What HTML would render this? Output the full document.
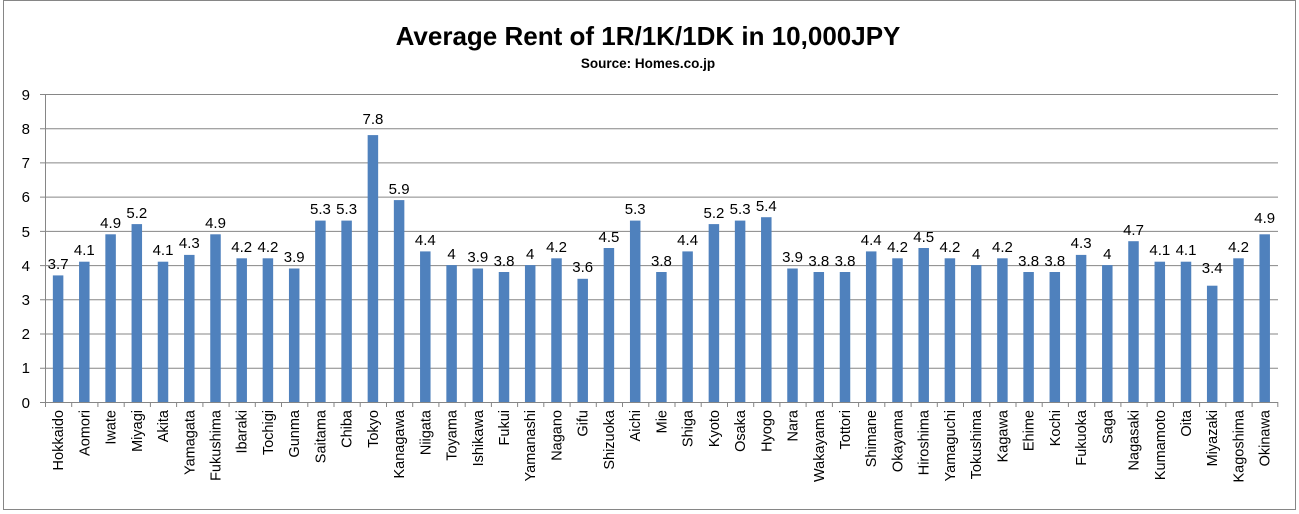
<!DOCTYPE html>
<html><head><meta charset="utf-8"><style>
html,body{margin:0;padding:0;background:#fff;}
svg{display:block;font-family:"Liberation Sans",sans-serif;}
.v{font-size:15px;text-anchor:middle;fill:#000}
.c{font-size:14.5px;text-anchor:end;fill:#000}
rect.b{fill:#4f81bd}
</style></head><body>
<svg width="1299" height="514" viewBox="0 0 1299 514">
<rect x="0" y="0" width="1299" height="514" fill="#fff"/>
<rect x="3.5" y="0.5" width="1292" height="509" fill="none" stroke="#868686"/>
<text x="648" y="45" text-anchor="middle" font-size="26" font-weight="bold">Average Rent of 1R/1K/1DK in 10,000JPY</text>
<text x="648" y="68" text-anchor="middle" font-size="13.5" font-weight="bold">Source: Homes.co.jp</text>
<g stroke="#868686" stroke-width="1">
<line x1="40" x2="1278" y1="94.5" y2="94.5"/>
<line x1="40" x2="1278" y1="128.7" y2="128.7"/>
<line x1="40" x2="1278" y1="162.9" y2="162.9"/>
<line x1="40" x2="1278" y1="197.1" y2="197.1"/>
<line x1="40" x2="1278" y1="231.4" y2="231.4"/>
<line x1="40" x2="1278" y1="265.6" y2="265.6"/>
<line x1="40" x2="1278" y1="299.8" y2="299.8"/>
<line x1="40" x2="1278" y1="334.0" y2="334.0"/>
<line x1="40" x2="1278" y1="368.2" y2="368.2"/>
<line x1="40" x2="1278" y1="402.5" y2="402.5"/>
<line x1="45.5" x2="45.5" y1="94" y2="407"/>
</g>
<g font-size="15" text-anchor="end">
<text x="30" y="100">9</text><text x="30" y="134">8</text><text x="30" y="168">7</text><text x="30" y="202">6</text><text x="30" y="237">5</text><text x="30" y="271">4</text><text x="30" y="305">3</text><text x="30" y="339">2</text><text x="30" y="373">1</text><text x="30" y="408">0</text>
</g>
<g stroke="#868686">
<path d="M71.7 402v5M97.9 402v5M124.2 402v5M150.4 402v5M176.6 402v5M202.9 402v5M229.1 402v5M255.3 402v5M281.5 402v5M307.8 402v5M334 402v5M360.2 402v5M386.5 402v5M412.7 402v5M438.9 402v5M465.2 402v5M491.4 402v5M517.6 402v5M543.8 402v5M570.1 402v5M596.3 402v5M622.5 402v5M648.8 402v5M675 402v5M701.2 402v5M727.5 402v5M753.7 402v5M779.9 402v5M806.1 402v5M832.4 402v5M858.6 402v5M884.8 402v5M911.1 402v5M937.3 402v5M963.5 402v5M989.8 402v5M1016 402v5M1042.2 402v5M1068.4 402v5M1094.7 402v5M1120.9 402v5M1147.1 402v5M1173.4 402v5M1199.6 402v5M1225.8 402v5M1252.1 402v5M1277.8 402v5"/>
</g>
<g transform="translate(58.1)"><rect class="b" x="-5.25" y="275.4" width="10.5" height="126.6"/><text class="v" y="269">3.7</text><text class="c" transform="translate(5,410) rotate(-90)">Hokkaido</text></g>
<g transform="translate(84.3)"><rect class="b" x="-5.25" y="261.7" width="10.5" height="140.3"/><text class="v" y="255">4.1</text><text class="c" transform="translate(5,410) rotate(-90)">Aomori</text></g>
<g transform="translate(110.6)"><rect class="b" x="-5.25" y="234.3" width="10.5" height="167.7"/><text class="v" y="228">4.9</text><text class="c" transform="translate(5,410) rotate(-90)">Iwate</text></g>
<g transform="translate(136.8)"><rect class="b" x="-5.25" y="224.1" width="10.5" height="177.9"/><text class="v" y="218">5.2</text><text class="c" transform="translate(5,410) rotate(-90)">Miyagi</text></g>
<g transform="translate(163.0)"><rect class="b" x="-5.25" y="261.7" width="10.5" height="140.3"/><text class="v" y="255">4.1</text><text class="c" transform="translate(5,410) rotate(-90)">Akita</text></g>
<g transform="translate(189.3)"><rect class="b" x="-5.25" y="254.9" width="10.5" height="147.1"/><text class="v" y="248">4.3</text><text class="c" transform="translate(5,410) rotate(-90)">Yamagata</text></g>
<g transform="translate(215.5)"><rect class="b" x="-5.25" y="234.3" width="10.5" height="167.7"/><text class="v" y="228">4.9</text><text class="c" transform="translate(5,410) rotate(-90)">Fukushima</text></g>
<g transform="translate(241.7)"><rect class="b" x="-5.25" y="258.3" width="10.5" height="143.7"/><text class="v" y="252">4.2</text><text class="c" transform="translate(5,410) rotate(-90)">Ibaraki</text></g>
<g transform="translate(267.9)"><rect class="b" x="-5.25" y="258.3" width="10.5" height="143.7"/><text class="v" y="252">4.2</text><text class="c" transform="translate(5,410) rotate(-90)">Tochigi</text></g>
<g transform="translate(294.2)"><rect class="b" x="-5.25" y="268.5" width="10.5" height="133.5"/><text class="v" y="262">3.9</text><text class="c" transform="translate(5,410) rotate(-90)">Gunma</text></g>
<g transform="translate(320.4)"><rect class="b" x="-5.25" y="220.6" width="10.5" height="181.4"/><text class="v" y="214">5.3</text><text class="c" transform="translate(5,410) rotate(-90)">Saitama</text></g>
<g transform="translate(346.6)"><rect class="b" x="-5.25" y="220.6" width="10.5" height="181.4"/><text class="v" y="214">5.3</text><text class="c" transform="translate(5,410) rotate(-90)">Chiba</text></g>
<g transform="translate(372.9)"><rect class="b" x="-5.25" y="135.1" width="10.5" height="266.9"/><text class="v" y="124">7.8</text><text class="c" transform="translate(5,410) rotate(-90)">Tokyo</text></g>
<g transform="translate(399.1)"><rect class="b" x="-5.25" y="200.1" width="10.5" height="201.9"/><text class="v" y="194">5.9</text><text class="c" transform="translate(5,410) rotate(-90)">Kanagawa</text></g>
<g transform="translate(425.3)"><rect class="b" x="-5.25" y="251.4" width="10.5" height="150.6"/><text class="v" y="245">4.4</text><text class="c" transform="translate(5,410) rotate(-90)">Niigata</text></g>
<g transform="translate(451.6)"><rect class="b" x="-5.25" y="265.1" width="10.5" height="136.9"/><text class="v" y="259">4</text><text class="c" transform="translate(5,410) rotate(-90)">Toyama</text></g>
<g transform="translate(477.8)"><rect class="b" x="-5.25" y="268.5" width="10.5" height="133.5"/><text class="v" y="262">3.9</text><text class="c" transform="translate(5,410) rotate(-90)">Ishikawa</text></g>
<g transform="translate(504.0)"><rect class="b" x="-5.25" y="272.0" width="10.5" height="130.0"/><text class="v" y="266">3.8</text><text class="c" transform="translate(5,410) rotate(-90)">Fukui</text></g>
<g transform="translate(530.2)"><rect class="b" x="-5.25" y="265.1" width="10.5" height="136.9"/><text class="v" y="259">4</text><text class="c" transform="translate(5,410) rotate(-90)">Yamanashi</text></g>
<g transform="translate(556.5)"><rect class="b" x="-5.25" y="258.3" width="10.5" height="143.7"/><text class="v" y="252">4.2</text><text class="c" transform="translate(5,410) rotate(-90)">Nagano</text></g>
<g transform="translate(582.7)"><rect class="b" x="-5.25" y="278.8" width="10.5" height="123.2"/><text class="v" y="272">3.6</text><text class="c" transform="translate(5,410) rotate(-90)">Gifu</text></g>
<g transform="translate(608.9)"><rect class="b" x="-5.25" y="248.0" width="10.5" height="154.0"/><text class="v" y="242">4.5</text><text class="c" transform="translate(5,410) rotate(-90)">Shizuoka</text></g>
<g transform="translate(635.2)"><rect class="b" x="-5.25" y="220.6" width="10.5" height="181.4"/><text class="v" y="214">5.3</text><text class="c" transform="translate(5,410) rotate(-90)">Aichi</text></g>
<g transform="translate(661.4)"><rect class="b" x="-5.25" y="272.0" width="10.5" height="130.0"/><text class="v" y="266">3.8</text><text class="c" transform="translate(5,410) rotate(-90)">Mie</text></g>
<g transform="translate(687.6)"><rect class="b" x="-5.25" y="251.4" width="10.5" height="150.6"/><text class="v" y="245">4.4</text><text class="c" transform="translate(5,410) rotate(-90)">Shiga</text></g>
<g transform="translate(713.9)"><rect class="b" x="-5.25" y="224.1" width="10.5" height="177.9"/><text class="v" y="218">5.2</text><text class="c" transform="translate(5,410) rotate(-90)">Kyoto</text></g>
<g transform="translate(740.1)"><rect class="b" x="-5.25" y="220.6" width="10.5" height="181.4"/><text class="v" y="214">5.3</text><text class="c" transform="translate(5,410) rotate(-90)">Osaka</text></g>
<g transform="translate(766.3)"><rect class="b" x="-5.25" y="217.2" width="10.5" height="184.8"/><text class="v" y="211">5.4</text><text class="c" transform="translate(5,410) rotate(-90)">Hyogo</text></g>
<g transform="translate(792.5)"><rect class="b" x="-5.25" y="268.5" width="10.5" height="133.5"/><text class="v" y="262">3.9</text><text class="c" transform="translate(5,410) rotate(-90)">Nara</text></g>
<g transform="translate(818.8)"><rect class="b" x="-5.25" y="272.0" width="10.5" height="130.0"/><text class="v" y="266">3.8</text><text class="c" transform="translate(5,410) rotate(-90)">Wakayama</text></g>
<g transform="translate(845.0)"><rect class="b" x="-5.25" y="272.0" width="10.5" height="130.0"/><text class="v" y="266">3.8</text><text class="c" transform="translate(5,410) rotate(-90)">Tottori</text></g>
<g transform="translate(871.2)"><rect class="b" x="-5.25" y="251.4" width="10.5" height="150.6"/><text class="v" y="245">4.4</text><text class="c" transform="translate(5,410) rotate(-90)">Shimane</text></g>
<g transform="translate(897.5)"><rect class="b" x="-5.25" y="258.3" width="10.5" height="143.7"/><text class="v" y="252">4.2</text><text class="c" transform="translate(5,410) rotate(-90)">Okayama</text></g>
<g transform="translate(923.7)"><rect class="b" x="-5.25" y="248.0" width="10.5" height="154.0"/><text class="v" y="242">4.5</text><text class="c" transform="translate(5,410) rotate(-90)">Hiroshima</text></g>
<g transform="translate(949.9)"><rect class="b" x="-5.25" y="258.3" width="10.5" height="143.7"/><text class="v" y="252">4.2</text><text class="c" transform="translate(5,410) rotate(-90)">Yamaguchi</text></g>
<g transform="translate(976.2)"><rect class="b" x="-5.25" y="265.1" width="10.5" height="136.9"/><text class="v" y="259">4</text><text class="c" transform="translate(5,410) rotate(-90)">Tokushima</text></g>
<g transform="translate(1002.4)"><rect class="b" x="-5.25" y="258.3" width="10.5" height="143.7"/><text class="v" y="252">4.2</text><text class="c" transform="translate(5,410) rotate(-90)">Kagawa</text></g>
<g transform="translate(1028.6)"><rect class="b" x="-5.25" y="272.0" width="10.5" height="130.0"/><text class="v" y="266">3.8</text><text class="c" transform="translate(5,410) rotate(-90)">Ehime</text></g>
<g transform="translate(1054.8)"><rect class="b" x="-5.25" y="272.0" width="10.5" height="130.0"/><text class="v" y="266">3.8</text><text class="c" transform="translate(5,410) rotate(-90)">Kochi</text></g>
<g transform="translate(1081.1)"><rect class="b" x="-5.25" y="254.9" width="10.5" height="147.1"/><text class="v" y="248">4.3</text><text class="c" transform="translate(5,410) rotate(-90)">Fukuoka</text></g>
<g transform="translate(1107.3)"><rect class="b" x="-5.25" y="265.1" width="10.5" height="136.9"/><text class="v" y="259">4</text><text class="c" transform="translate(5,410) rotate(-90)">Saga</text></g>
<g transform="translate(1133.5)"><rect class="b" x="-5.25" y="241.2" width="10.5" height="160.8"/><text class="v" y="235">4.7</text><text class="c" transform="translate(5,410) rotate(-90)">Nagasaki</text></g>
<g transform="translate(1159.8)"><rect class="b" x="-5.25" y="261.7" width="10.5" height="140.3"/><text class="v" y="255">4.1</text><text class="c" transform="translate(5,410) rotate(-90)">Kumamoto</text></g>
<g transform="translate(1186.0)"><rect class="b" x="-5.25" y="261.7" width="10.5" height="140.3"/><text class="v" y="255">4.1</text><text class="c" transform="translate(5,410) rotate(-90)">Oita</text></g>
<g transform="translate(1212.2)"><rect class="b" x="-5.25" y="285.7" width="10.5" height="116.3"/><text class="v" y="273">3.4</text><text class="c" transform="translate(5,410) rotate(-90)">Miyazaki</text></g>
<g transform="translate(1238.5)"><rect class="b" x="-5.25" y="258.3" width="10.5" height="143.7"/><text class="v" y="252">4.2</text><text class="c" transform="translate(5,410) rotate(-90)">Kagoshima</text></g>
<g transform="translate(1264.7)"><rect class="b" x="-5.25" y="234.3" width="10.5" height="167.7"/><text class="v" y="223">4.9</text><text class="c" transform="translate(5,410) rotate(-90)">Okinawa</text></g>
</svg>
</body></html>
